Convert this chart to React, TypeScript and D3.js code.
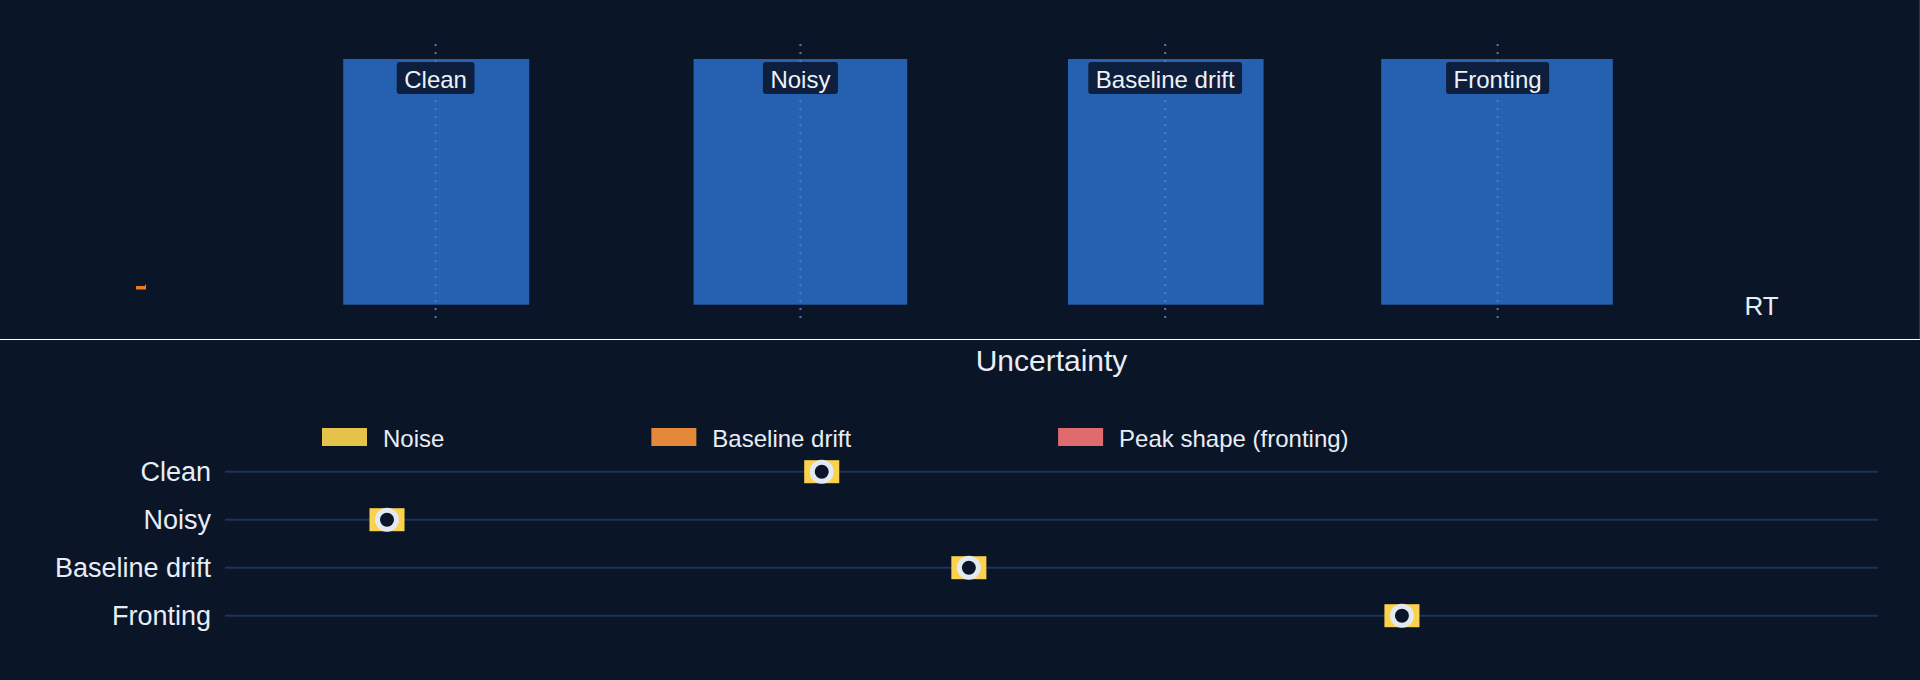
import React, { useEffect, useRef } from 'react';
import * as d3 from 'd3';

// ---------- data ----------
const peakNames = ['Clean', 'Noisy', 'Baseline drift', 'Fronting'];
const peakStart = [2.86, 5.78, 8.9, 11.51]; // RT (min)
const peakEnd = [4.41, 7.56, 10.53, 13.44];
const peakApex = [3.63, 6.67, 9.71, 12.48];
const peakWindowTop = [1, 1, 1, 1];

const traceMarkerRT = 1.175;
const traceMarkerSignal = 0.072;
const rtAxisLabel = 'RT';
const rtAxisLabelPos = 14.68;

const rowNames = ['Clean', 'Noisy', 'Baseline drift', 'Fronting'];
const estimate = [0.361, 0.098, 0.45, 0.712];
const noiseU = [0.0106, 0.0106, 0.0106, 0.0106];
const driftU = [0, 0, 0, 0];
const shapeU = [0, 0, 0, 0];

const legendNames = ['Noise', 'Baseline drift', 'Peak shape (fronting)'];
const legendColors = ['#e5c24a', '#e5883a', '#e06b6e'];
const segColors = ['#fbd24e', '#e5883a', '#e06b6e'];
const panelTitle = 'Uncertainty';

// ---------- style ----------
const W = 1920;
const H = 680;
const BG = '#0b1528';
const FONT = "'Liberation Sans', Arial, Helvetica, sans-serif";
const TEXT = '#e8edf5';

export default function App() {
  const ref = useRef<SVGSVGElement | null>(null);

  useEffect(() => {
    document.body.style.margin = '0';
    document.body.style.background = BG;
    const svg = d3.select(ref.current);
    svg.selectAll('*').remove();

    svg.append('rect').attr('width', W).attr('height', H).attr('fill', BG);

    // ---------- top panel ----------
    const xRT = d3.scaleLinear().domain([0, 16]).range([0, 1920]);
    const yTop = d3.scaleLinear().domain([0, 1]).range([304.7, 59]);

    const top = svg.append('g');
    const peaks = peakNames.map((n, i) => ({
      name: n,
      s: peakStart[i],
      e: peakEnd[i],
      a: peakApex[i],
      h: peakWindowTop[i],
    }));

    top
      .selectAll('rect.win')
      .data(peaks)
      .join('rect')
      .attr('class', 'win')
      .attr('x', (d) => xRT(d.s))
      .attr('width', (d) => xRT(d.e) - xRT(d.s))
      .attr('y', (d) => yTop(d.h))
      .attr('height', (d) => yTop(0) - yTop(d.h))
      .attr('fill', '#2561b0');

    top
      .selectAll('line.apex')
      .data(peaks)
      .join('line')
      .attr('class', 'apex')
      .attr('x1', (d) => xRT(d.a))
      .attr('x2', (d) => xRT(d.a))
      .attr('y1', (d) => yTop(d.h) - 15)
      .attr('y2', yTop(0) + 14)
      .attr('stroke', '#5279b8')
      .attr('stroke-width', 2)
      .attr('stroke-dasharray', '2,6');

    const lab = top
      .selectAll('g.lab')
      .data(peaks)
      .join('g')
      .attr('class', 'lab')
      .attr('transform', (d) => `translate(${xRT(d.a)},${yTop(d.h) + 3})`);
    lab
      .append('text')
      .attr('x', 0)
      .attr('y', 26)
      .attr('text-anchor', 'middle')
      .attr('font-family', FONT)
      .attr('font-size', 24)
      .attr('fill', '#eef2f8')
      .text((d) => d.name);
    lab.each(function () {
      const g = d3.select(this);
      const t = g.select('text').node() as SVGTextElement;
      const w = t.getComputedTextLength();
      g.insert('rect', 'text')
        .attr('x', -w / 2 - 7.5)
        .attr('y', 0)
        .attr('width', w + 15)
        .attr('height', 32)
        .attr('rx', 3)
        .attr('fill', '#0d1f3c');
    });

    // small trace marker
    const mx = xRT(traceMarkerRT);
    const my = yTop(traceMarkerSignal);
    top
      .append('path')
      .attr('d', `M${mx - 5},${my - 1} h9 v-1.5 h1 v5 h-10 z`)
      .attr('fill', '#f27a1a');

    top
      .append('text')
      .attr('x', xRT(rtAxisLabelPos))
      .attr('y', yTop(0) + 10.5)
      .attr('text-anchor', 'middle')
      .attr('font-family', FONT)
      .attr('font-size', 26)
      .attr('fill', TEXT)
      .text(rtAxisLabel);

    // panel edge
    svg
      .append('line')
      .attr('x1', W - 0.5)
      .attr('x2', W - 0.5)
      .attr('y1', 0)
      .attr('y2', 339.5)
      .attr('stroke', '#2a3548')
      .attr('stroke-width', 1);

    // divider
    svg
      .append('line')
      .attr('x1', 0)
      .attr('x2', W)
      .attr('y1', 339.5)
      .attr('y2', 339.5)
      .attr('stroke', '#ffffff')
      .attr('stroke-width', 1.2);

    // ---------- bottom panel ----------
    const xU = d3.scaleLinear().domain([0, 1]).range([225, 1878]);
    const yRow = d3.scalePoint<string>().domain(rowNames).range([471.7, 615.7]);

    const bot = svg.append('g');
    bot
      .append('text')
      .attr('x', (xU.range()[0] + xU.range()[1]) / 2)
      .attr('y', 371)
      .attr('text-anchor', 'middle')
      .attr('font-family', FONT)
      .attr('font-size', 30)
      .attr('fill', TEXT)
      .text(panelTitle);

    // legend
    const leg = bot.append('g').attr('transform', 'translate(322,428)');
    let lx = 0;
    legendNames.forEach((n, i) => {
      const g = leg.append('g').attr('transform', `translate(${lx},0)`);
      g.append('rect').attr('width', 45).attr('height', 18).attr('fill', legendColors[i]);
      const t = g
        .append('text')
        .attr('x', 61)
        .attr('y', 18.5)
        .attr('font-family', FONT)
        .attr('font-size', 24)
        .attr('fill', TEXT)
        .text(n);
      const w = (t.node() as SVGTextElement).getComputedTextLength();
      lx += 61 + w + 207;
    });

    // row lines + labels
    bot
      .selectAll('line.row')
      .data(rowNames)
      .join('line')
      .attr('class', 'row')
      .attr('x1', xU.range()[0])
      .attr('x2', xU.range()[1])
      .attr('y1', (d) => yRow(d)!)
      .attr('y2', (d) => yRow(d)!)
      .attr('stroke', '#1d3456')
      .attr('stroke-width', 2);

    bot
      .selectAll('text.rowlab')
      .data(rowNames)
      .join('text')
      .attr('class', 'rowlab')
      .attr('x', 211)
      .attr('y', (d) => yRow(d)! + 9.5)
      .attr('text-anchor', 'end')
      .attr('font-family', FONT)
      .attr('font-size', 27)
      .attr('fill', TEXT)
      .text((d) => d);

    const rows = rowNames.map((n, i) => ({
      name: n,
      est: estimate[i],
      comps: [noiseU[i], driftU[i], shapeU[i]],
    }));

    const rg = bot
      .selectAll('g.pt')
      .data(rows)
      .join('g')
      .attr('class', 'pt');

    rg.each(function (d) {
      const g = d3.select(this);
      const cy = yRow(d.name)!;
      const cum = [d.comps[0], d.comps[0] + d.comps[1], d.comps[0] + d.comps[1] + d.comps[2]];
      for (let k = 2; k >= 0; k--) {
        const inner = k === 0 ? 0 : cum[k - 1];
        const outer = cum[k];
        if (outer - inner <= 0) continue;
        if (k === 0) {
          g.append('rect')
            .attr('x', xU(d.est - outer))
            .attr('width', xU(d.est + outer) - xU(d.est - outer))
            .attr('y', cy - 11.5)
            .attr('height', 23)
            .attr('fill', segColors[k]);
        } else {
          [-1, 1].forEach((s) => {
            const a = xU(d.est + s * inner);
            const b = xU(d.est + s * outer);
            g.append('rect')
              .attr('x', Math.min(a, b))
              .attr('width', Math.abs(b - a))
              .attr('y', cy - 11.5)
              .attr('height', 23)
              .attr('fill', segColors[k]);
          });
        }
      }
      g.append('circle')
        .attr('cx', xU(d.est))
        .attr('cy', cy)
        .attr('r', 9.5)
        .attr('fill', BG)
        .attr('stroke', '#e3e9f1')
        .attr('stroke-width', 5);
    });
  }, []);

  return (
    <svg
      ref={ref}
      width={W}
      height={H}
      style={{ display: 'block', position: 'absolute', left: 0, top: 0 }}
    />
  );
}
